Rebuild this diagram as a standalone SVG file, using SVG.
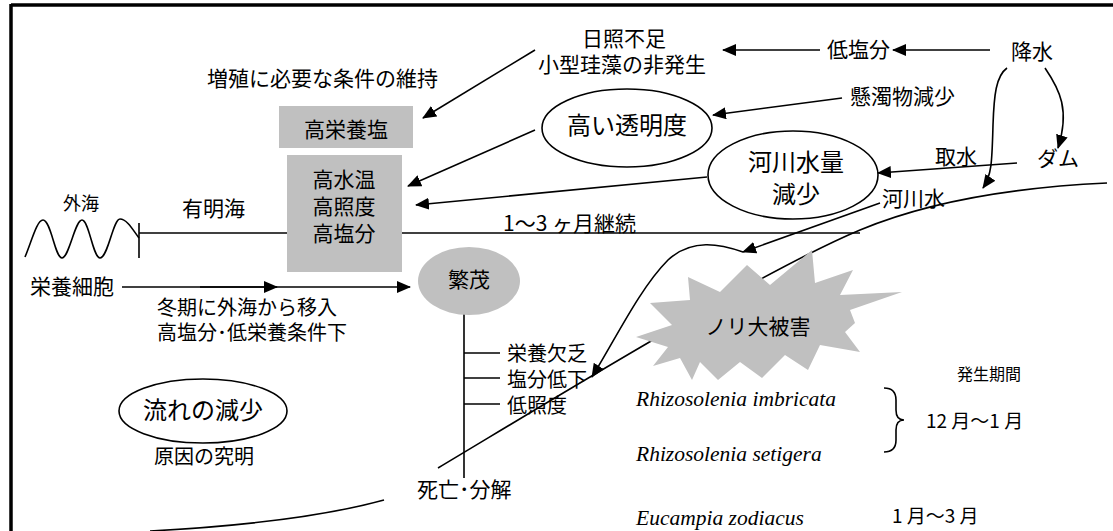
<svg xmlns="http://www.w3.org/2000/svg" width="1113" height="531" viewBox="0 0 1113 531">
<style>
.t{font-family:"Noto Sans CJK JP","Liberation Sans",sans-serif;fill:#000;font-size:21px}
.big{font-size:24px}
.sm{font-size:16px}
.mid{font-size:19px}
.lst{font-size:20px}
.sp{font-family:"Liberation Serif","Times New Roman",serif;font-style:italic;font-size:21.5px;fill:#000}
.c{text-anchor:middle}
.ln{fill:none;stroke:#000;stroke-width:1.6}
.gray{fill:#c0c0c0;stroke:none}
.oval{fill:#fff;stroke:#000;stroke-width:1.6}
</style>
<defs>
<marker id="ah" markerUnits="userSpaceOnUse" markerWidth="14" markerHeight="12" viewBox="0 0 14 12" refX="13" refY="6" orient="auto">
<path d="M0,0 L14,6 L0,12 Z" fill="#000"/>
</marker>
</defs>
<rect width="1113" height="531" fill="#fff"/>
<g id="frame">
<line x1="11" y1="5" x2="1113" y2="5" stroke="#000" stroke-width="3.5"/>
<line x1="11" y1="4" x2="11" y2="531" stroke="#000" stroke-width="3.5"/>
</g>
<g id="connectors">
<line class="ln" x1="990" y1="50" x2="893" y2="50" marker-end="url(#ah)"/>
<line class="ln" x1="820" y1="50" x2="723" y2="50" marker-end="url(#ah)"/>
<line class="ln" x1="535" y1="50" x2="423" y2="118" marker-end="url(#ah)"/>
<line class="ln" x1="842" y1="98" x2="713" y2="115" marker-end="url(#ah)"/>
<line class="ln" x1="535" y1="130" x2="408" y2="186" marker-end="url(#ah)"/>
<line class="ln" x1="707" y1="177" x2="416" y2="205" marker-end="url(#ah)"/>
<line class="ln" x1="1017" y1="163" x2="878" y2="173" marker-end="url(#ah)"/>
<path class="ln" d="M1045,68 C1060,90 1070,110 1058,148" marker-end="url(#ah)"/>
<path class="ln" d="M1007,68 C996,76 994,95 993,125 C992,160 992,175 983,188" marker-end="url(#ah)"/>
<line class="ln" x1="122" y1="287" x2="410" y2="287" marker-end="url(#ah)"/>
<line class="ln" x1="200" y1="287" x2="277" y2="287" marker-end="url(#ah)"/>
<line class="ln" x1="880" y1="203" x2="743" y2="252" marker-end="url(#ah)"/>
<path class="ln" d="M743,252 C720,244 692,238 668,260 C640,288 615,340 592,377" marker-end="url(#ah)"/>
<path class="ln" d="M1107,183 C1000,188 920,205 860,230 C760,272 560,395 438,468"/>
<path class="ln" d="M384,500 Q300,523 150,531"/>
<line class="ln" x1="139" y1="233" x2="860" y2="233"/>
<line class="ln" x1="139" y1="223" x2="139" y2="258"/>
<path class="ln" d="M25,257 C32,240 37,220 43,220 C51,220 55,258 62,258 C69,258 75,220 82,220 C89,220 93,258 100,258 C108,258 113,219 120,219 C127,219 133,230 139,238"/>
<line class="ln" x1="464" y1="312" x2="464" y2="478"/>
<line class="ln" x1="464" y1="353" x2="500" y2="353"/>
<line class="ln" x1="464" y1="378" x2="500" y2="378"/>
<line class="ln" x1="464" y1="404" x2="500" y2="404"/>
<path class="ln" d="M884,388 Q896,388 896,400 L896,410 Q896,420 904,420 Q896,420 896,430 L896,440 Q896,452 884,452"/>
</g>
<g id="box-nutrient">
<rect class="gray" x="279" y="106" width="134" height="42"/>
<text class="t c" x="346" y="137">高栄養塩</text>
</g>
<g id="box-conditions">
<rect class="gray" x="287" y="155" width="115" height="117"/>
<text class="t c" x="344" y="187">高水温</text>
<text class="t c" x="344" y="214">高照度</text>
<text class="t c" x="344" y="241">高塩分</text>
</g>
<g id="node-transparency">
<ellipse class="oval" cx="627" cy="128" rx="85" ry="39"/>
<text class="t big c" x="627" y="134">高い透明度</text>
</g>
<g id="node-river-decrease">
<ellipse class="oval" cx="793" cy="175" rx="85" ry="44"/>
<text class="t big c" x="796" y="171">河川水量</text>
<text class="t big c" x="796" y="203">減少</text>
</g>
<g id="node-flow">
<ellipse class="oval" cx="203" cy="411" rx="84" ry="32"/>
<text class="t big c" x="203" y="419">流れの減少</text>
</g>
<g id="node-bloom">
<ellipse class="gray" cx="469" cy="281" rx="51" ry="34"/>
<text class="t c" x="469" y="287">繁茂</text>
</g>
<g id="node-damage">
<polygon class="gray" points="636,337 672,325 650,303 690,300 688,277 720,292 747,265 770,285 812,250 815,283 853,270 840,295 902,292 850,310 855,323 845,332 860,352 820,345 808,370 785,355 762,378 740,362 718,380 700,362 692,380 680,358 653,366 668,347"/>
<text class="t c" x="758" y="334">ノリ大被害</text>
</g>
<g id="labels">
<text class="t" x="207" y="86">増殖に必要な条件の維持</text>
<text class="t c" x="624" y="46">日照不足</text>
<text class="t c" x="622" y="72">小型珪藻の非発生</text>
<text class="t" x="827" y="57">低塩分</text>
<text class="t" x="1011" y="59">降水</text>
<text class="t" x="850" y="104">懸濁物減少</text>
<text class="t" x="935" y="164">取水</text>
<text class="t" x="1037" y="166">ダム</text>
<text class="t" x="882" y="206">河川水</text>
<text class="t" x="63" y="210" style="font-size:18px">外海</text>
<text class="t" x="182" y="216">有明海</text>
<text class="t" x="503" y="231">1〜3 ヶ月継続</text>
<text class="t" x="30" y="294">栄養細胞</text>
<text class="t lst" x="157" y="315">冬期に外海から移入</text>
<text class="t lst" x="157" y="340">高塩分･低栄養条件下</text>
<text class="t lst" x="507" y="361">栄養欠乏</text>
<text class="t lst" x="507" y="387">塩分低下</text>
<text class="t lst" x="507" y="413">低照度</text>
<text class="t" x="417" y="497">死亡･分解</text>
<text class="t c" x="204" y="464" style="font-size:20px">原因の究明</text>
<text class="t sm" x="957" y="380">発生期間</text>
<text class="t mid" x="926" y="428">12 月〜1 月</text>
<text class="t mid" x="892" y="523">1 月〜3 月</text>
<text class="sp" x="636" y="406">Rhizosolenia imbricata</text>
<text class="sp" x="636" y="461">Rhizosolenia setigera</text>
<text class="sp" x="636" y="525">Eucampia zodiacus</text>
</g>
</svg>
